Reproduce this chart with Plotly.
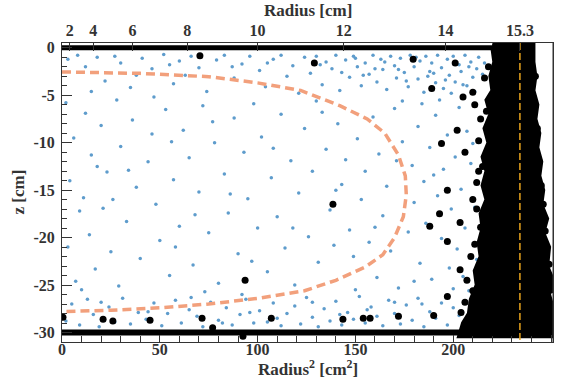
import plotly.graph_objects as go

# ---------------- data ----------------
blue_r2 = [3,8,12,18,22,27,30,35,41,46,52,57,60,66,70,74,79,83,88,92,96,101,104,108,112,115,118,121,124,127,130,133,135,138,140,142,145,147,149,151,153,155,157,159,161,163,164,166,168,170,171,173,175,177,178,180,182,183,185,186,188,189,191,192,194,195,197,198,200,201,203,204,206,207,209,210,212,213,215,216,105,150,160,172,181,190,196,205,208,211,187,176,165,154,143,132,87,63,15,38,55,199,193,184,174,
           2,6,4,9,3,7,12,15,11,14,17,20,23,21,25,28,30,33,29,36,38,40,44,46,48,50,53,55,57,60,62,65,67,70,72,75,78,80,83,85,88,90,93,95,98,100,102,105,107,110,112,114,117,119,121,124,126,128,131,133,135,137,139,141,143,145,147,149,151,153,155,157,159,161,162,164,166,168,170,172,174,177,179,180,182,183,185,186,188,189,191,192,194,195,197,198,199,201,202,203,204,206,207,208,209,211,212,210,190,180,171,160,150,140,130,118,108,97,86,77,68,58,47,34,26,18,10,56,73,92,
           2,5,9,13,16,19,24,27,31,35,39,43,47,51,54,58,61,65,69,72,76,80,84,87,91,94,98,101,105,108,112,115,119,122,125,128,131,134,137,140,143,146,149,152,155,158,161,164,167,170,173,176,179,182,185,188,191,194,197,200,203,206,209,212,184,170,156,142,128,110,96,82,66,44,20,215,200,205]
blue_z = [-1.2,-0.8,-2.0,-1.0,-3.5,-0.9,-1.6,-4.2,-1.1,-2.2,-0.7,-3.8,-1.4,-0.9,-2.1,-4.6,-1.3,-0.8,-3.2,-1.7,-0.9,-2.4,-4.1,-1.2,-0.8,-3.0,-1.9,-4.8,-1.0,-2.7,-0.9,-3.9,-1.5,-2.2,-0.8,-4.5,-1.3,-3.1,-0.9,-2.0,-4.0,-1.6,-2.8,-0.8,-3.6,-1.2,-2.3,-4.4,-0.9,-1.9,-3.2,-1.1,-2.6,-4.1,-0.8,-2.0,-3.3,-1.4,-4.7,-0.9,-2.5,-1.6,-3.7,-0.8,-2.1,-4.3,-1.2,-2.9,-0.9,-3.6,-1.8,-2.5,-0.8,-4.0,-1.5,-3.1,-2.2,-1.0,-2.8,-1.6,-1.6,-1.1,-2.2,-2.3,-1.0,-2.7,-3.4,-3.9,-2.0,-4.6,-3.0,-3.5,-1.5,-2.9,-2.6,-1.8,-2.0,-2.9,-4.6,-2.9,-1.8,-4.8,-5.5,-5.9,-5.6,
          -5.8,-9.5,-14.0,-17.2,-21.0,-24.6,-6.9,-11.3,-15.8,-19.7,-23.3,-8.2,-13.1,-16.9,-21.5,-5.5,-10.4,-18.3,-25.1,-7.6,-14.7,-22.2,-12.0,-9.1,-16.5,-20.3,-6.5,-24.0,-13.9,-18.8,-8.7,-11.6,-22.9,-15.2,-6.1,-19.5,-10.0,-24.8,-13.3,-17.4,-7.4,-21.7,-11.0,-15.9,-5.9,-19.0,-9.4,-23.6,-13.7,-17.8,-7.0,-21.1,-11.9,-25.0,-15.3,-8.5,-19.9,-13.0,-22.6,-6.8,-10.7,-17.1,-20.8,-8.0,-14.4,-11.8,-19.2,-22.0,-9.6,-16.0,-13.0,-20.5,-7.3,-24.2,-11.2,-17.7,-14.6,-21.4,-6.4,-25.3,-9.9,-19.4,-12.4,-16.3,-8.3,-22.7,-14.1,-18.5,-10.5,-24.4,-7.1,-15.6,-20.1,-12.8,-9.2,-23.2,-17.0,-11.5,-21.2,-6.3,-14.9,-19.0,-8.8,-25.6,-12.2,-16.8,-22.3,-10.1,-13.4,-24.6,-11.9,-18.9,-25.5,-15.0,-5.6,-19.0,-10.6,-22.5,-15.4,-7.8,-17.6,-21.0,-5.2,-12.9,-16.0,-12.5,-25.5,-9.9,-25.7,-26.0,
          -28.8,-27.0,-29.2,-26.5,-28.1,-29.4,-27.3,-28.9,-26.4,-29.1,-27.9,-28.6,-26.9,-29.3,-28.0,-26.6,-29.0,-27.6,-28.3,-29.4,-26.8,-28.7,-27.4,-29.2,-28.1,-26.5,-29.0,-27.7,-28.9,-26.9,-29.3,-28.0,-27.2,-29.1,-26.3,-28.4,-29.4,-27.5,-28.8,-26.7,-29.2,-27.9,-28.6,-26.2,-29.0,-27.3,-28.3,-29.3,-26.6,-28.0,-29.1,-27.1,-28.7,-26.4,-29.4,-27.8,-28.5,-26.9,-29.2,-27.4,-28.2,-29.0,-26.7,-28.6,-27.0,-26.8,-27.6,-28.1,-26.8,-28.5,-27.9,-29.0,-26.3,-27.8,-26.8,-27.5,-25.4,-24.1]

black_r2 = [0.5,21,26,45,71.6,77,93.6,92.5,107,70.5,129,179.5,189,194,197,138.5,193,188,197,197,190,172,154,157.5,143.6,201,205,210,211,202,206,203.5,203.5,210,
            214,213,215,212,214,211,209,207,206,204,216,218,217,213,212,210,244,246,247,249,250,248,243,242,245,250]
black_z = [-28.4,-28.6,-28.8,-28.7,-28.5,-29.5,-24.5,-30.4,-28.5,-0.85,-1.6,-1.2,-4.3,-10.1,-15.0,-16.5,-17.5,-18.8,-20.4,-26.2,-28.2,-28.3,-28.5,-28.5,-28.6,-1.6,-5.2,-4.7,-6.0,-8.7,-11.0,-23.4,-18.4,-16.0,
           -7.5,-9.8,-12.5,-14.2,-18.9,-20.7,-22.0,-24.5,-26.8,-27.9,-3.2,-2.0,-6.7,-13.0,-17.0,-25.6,-12.0,-16.5,-19.3,-22.8,-25.5,-27.2,-8.5,-3.0,-14.5,-28.5]

# dense core of events near the wall (outline)
dense_r2 = [220,221,219,220,217,219,216,218,215,217,215,217,214,215,213,214,211,212,209,208,205,203,
            251,251,249,251,248,249,246,248,245,246,244,245,243,244,242,243,241,242,241,241,220]
dense_z = [0.0,-1.5,-3.0,-4.5,-5.5,-7.0,-8.5,-10.0,-11.5,-13.0,-14.5,-16.0,-17.5,-19.0,-20.5,-22.0,-23.5,-25.0,-26.5,-28.0,-29.0,-30.4,
           -30.4,-27.5,-26.0,-24.5,-23.0,-21.0,-19.5,-18.0,-16.5,-15.0,-13.5,-12.0,-10.5,-9.0,-7.5,-6.0,-4.5,-3.0,-1.5,0.4,0.4]

# events on the top and bottom plates
top_r2 = [0, 221]
top_z = [0.0, 0.0]
bot_r2 = [0, 205]
bot_z = [-30.0, -30.0]

# fiducial volume boundary
fid_r2 = [0,40,75,100,122,142,156,165,172,175.5,176,174.5,170,164,155,140,124,100,75,50,25,0]
fid_z = [-2.55,-2.7,-3.05,-3.7,-4.5,-6.1,-7.5,-9.0,-11.3,-13.5,-15.5,-17.8,-20.0,-21.8,-23.1,-24.5,-25.6,-26.4,-27.0,-27.4,-27.65,-27.8]

wall_r = 15.3
top_tick_r = [2, 4, 6, 8, 10, 12, 14, 15.3]
top_tick_text = ["2", "4", "6", "8", "10", "12", "14", "15.3"]
z_ticks = [0, -5, -10, -15, -20, -25, -30]
z_tick_text = ["0", "-5", "-10", "-15", "-20", "-25", "-30"]
x_ticks = [0, 50, 100, 150, 200, 250]

# ---------------- figure ----------------
FONT = "Liberation Serif"
TXT = "#333333"
fig = go.Figure()

fig.add_trace(go.Scatter(x=blue_r2, y=blue_z, mode="markers",
                         marker=dict(size=3.5, color="#5e9ccc"), hoverinfo="skip"))
fig.add_trace(go.Scatter(x=dense_r2, y=dense_z, mode="lines", fill="toself",
                         fillcolor="black", line=dict(color="black", width=4), hoverinfo="skip"))
fig.add_trace(go.Scatter(x=top_r2, y=top_z, mode="lines", line=dict(color="black", width=5), hoverinfo="skip"))
fig.add_trace(go.Scatter(x=bot_r2, y=bot_z, mode="lines", line=dict(color="black", width=6), hoverinfo="skip"))
fig.add_trace(go.Scatter(x=black_r2, y=black_z, mode="markers",
                         marker=dict(size=7, color="black"), hoverinfo="skip"))
fig.add_trace(go.Scatter(x=fid_r2, y=fid_z, mode="lines",
                         line=dict(color="#f2a07c", width=3.5, dash="9px,5px"), hoverinfo="skip"))
fig.add_trace(go.Scatter(x=[wall_r**2, wall_r**2], y=[0.5, -31], xaxis="x2", mode="lines",
                         line=dict(color="#e8a31c", width=1.5, dash="7px,3px"), hoverinfo="skip"))

tickfont = dict(family=FONT, size=16, color=TXT, weight="bold")
titlefont = dict(family=FONT, size=17, color=TXT, weight="bold")
fig.update_layout(
    width=562, height=383,
    margin=dict(l=62, r=9, t=43, b=41, autoexpand=False),
    paper_bgcolor="white", plot_bgcolor="white",
    showlegend=False,
    xaxis=dict(range=[0, 251], tickvals=x_ticks, ticks="inside", ticklen=7, tickwidth=1,
               tickcolor="#333", minor=dict(dtick=10, ticks="inside", ticklen=6, tickcolor="#333"),
               showgrid=False, zeroline=False, showline=True, linecolor="#333", linewidth=1,
               mirror=False, tickfont=tickfont, automargin=False, ticklabelstandoff=-7),
    xaxis2=dict(range=[0, 251], overlaying="x", side="top",
                tickvals=[r * r for r in top_tick_r], ticktext=top_tick_text,
                ticks="inside", ticklen=8, tickcolor="#333", showgrid=False, zeroline=False,
                showline=True, linecolor="#333", linewidth=1, tickfont=tickfont, automargin=False),
    yaxis=dict(range=[-31, 0.5], tickvals=z_ticks, ticktext=z_tick_text, ticks="inside",
               ticklen=10, tickcolor="#333",
               minor=dict(dtick=1, ticks="inside", ticklen=5, tickcolor="#333"),
               showgrid=False, zeroline=False, showline=True, linecolor="#333", linewidth=1,
               mirror=True, tickfont=tickfont, automargin=False, ticklabelstandoff=3),
    annotations=[
        dict(text="Radius [cm]", xref="paper", yref="paper", x=0.5, y=1, xanchor="center",
             yanchor="middle", yshift=33, showarrow=False, font=titlefont),
        dict(text="Radius<sup>2</sup> [cm<sup>2</sup>]", xref="paper", yref="paper", x=0.5, y=0,
             xanchor="center", yanchor="middle", yshift=-26, showarrow=False, font=titlefont),
        dict(text="z [cm]", xref="paper", yref="paper", x=0, y=0.5, xanchor="center",
             yanchor="middle", xshift=-44, textangle=-90, showarrow=False, font=titlefont),
    ],
)
# right border
fig.add_shape(type="line", xref="paper", yref="paper", x0=1, x1=1, y0=0, y1=1,
              line=dict(color="#333", width=1))

fig.write_html("out.html", config={"displayModeBar": False},
               post_script="document.body.style.margin='0';")
